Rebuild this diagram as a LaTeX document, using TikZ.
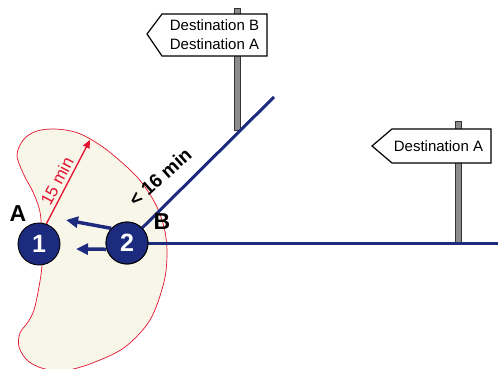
\documentclass[tikz,border=0pt]{standalone}
\usepackage{fontspec}
\setmainfont{Liberation Sans}
\usetikzlibrary{arrows.meta}
\definecolor{navy}{HTML}{1C2B7E}
\definecolor{cream}{HTML}{F8F5E9}
\definecolor{redl}{HTML}{E5132E}
\definecolor{postgray}{HTML}{8C8C8C}
\tikzset{
  stop/.style={circle,draw=black,line width=0.9pt,fill=navy,minimum size=42pt,inner sep=0pt,text=white,font=\bfseries\fontsize{25}{25}\selectfont},
  road/.style={draw=navy,line width=3pt},
  walk/.style={draw=navy,line width=3.5pt,-{Triangle[length=12pt,width=11pt]}},
  signbox/.style={draw=black,line width=1.2pt,fill=white},
  signpost/.style={draw=black!80,line width=0.8pt,fill=postgray},
  signtext/.style={align=center,font=\fontsize{15}{19}\selectfont,inner sep=0pt},
  letter/.style={font=\bfseries\fontsize{23}{23}\selectfont,inner sep=0pt},
}
\begin{document}
\begin{tikzpicture}[x=1pt,y=-1pt]
\useasboundingbox (0,0) rectangle (498,369);
% catchment area
\draw[redl,line width=0.7pt,fill=cream] plot[smooth cycle,tension=0.55] coordinates {
(17,155) (24,139) (37,131) (55,129) (75,132) (92,140) (112,154) (138,178) (155,203) (164,227) (167,252) (164,282) (150,320) (125,347) (95,362) (68,370) (45,369) (28,361) (19,347) (20,333) (28,322) (34,310) (39,287) (42,265) (42,240) (40,212) (33,192) (24,175)};
% signposts
\draw[signpost] (234,8) rectangle (240,130);
\draw[signbox] (147,34) -- (162,14) -- (267,14) -- (267,56) -- (162,56) -- cycle;
\node[signtext] (s1) at (214.5,35) {Destination B\\Destination A};
\draw[signpost] (455,121) rectangle (461,243);
\draw[signbox] (372,146) -- (392,129) -- (491,129) -- (491,163) -- (392,163) -- cycle;
\node[signtext] (s2) at (438.5,146.5) {Destination A};
% stops
\node[stop] (n1) at (39,244) {1};
\node[stop] (n2) at (127,243) {2};
\coordinate (dEnd) at (274,97);
\coordinate (hEnd) at (498,243);
\draw[road] (n2) -- (dEnd);
\draw[road] (n2) -- (hEnd);
\node[stop] at (n2) {2};
% walking arrows
\coordinate (w1) at (66,220);
\coordinate (w2) at (76,249);
\draw[walk] (n2.137) -- (w1);
\draw[walk] (n2.197) -- (w2);
% radius
\coordinate (r1) at (90,140);
\draw[redl,line width=1.3pt,-{Triangle[length=8pt,width=7pt]}] (n1.70) -- (r1);
\node[text=redl,font=\fontsize{17}{17}\selectfont,rotate=62,inner sep=0pt] (t15) at (57,181) {15 min};
\node[font=\bfseries\fontsize{19}{19}\selectfont,rotate=42,inner sep=0pt] (t16) at (160,177) {< 16 min};
% labels
\node[letter] (lA) at (18,214) {A};
\node[letter] (lB) at (162,222) {B};
\end{tikzpicture}
\end{document}
